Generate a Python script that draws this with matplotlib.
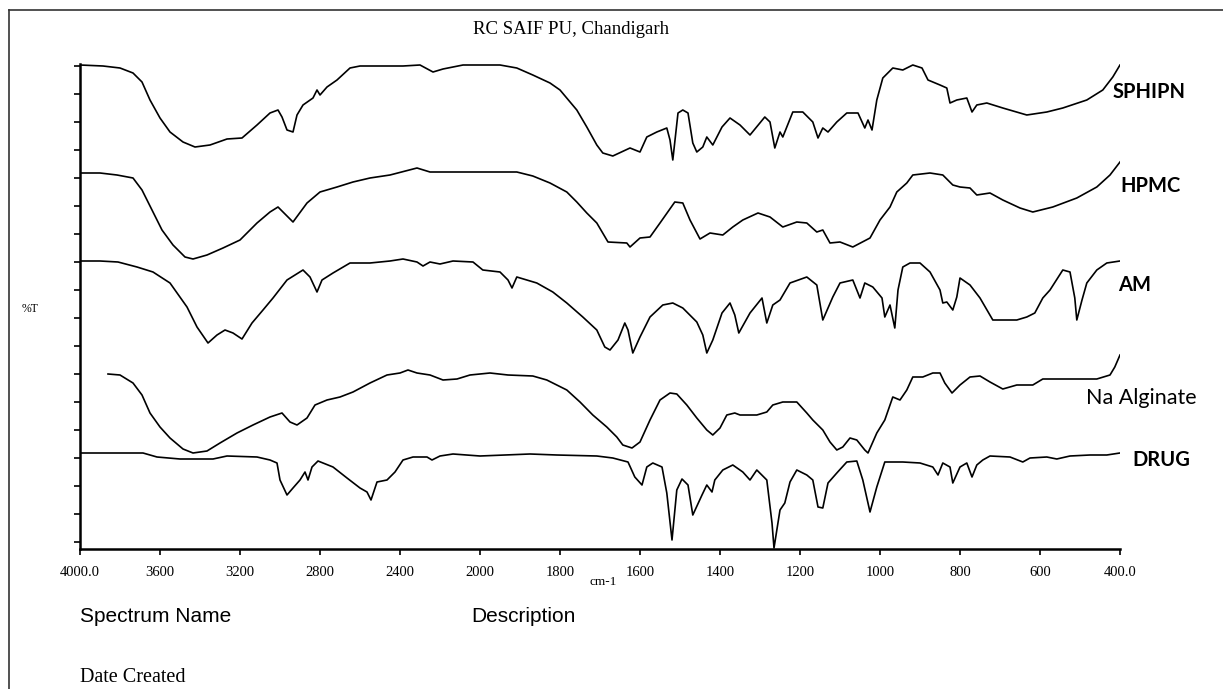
import numpy as np
import matplotlib
matplotlib.use("Agg")
import matplotlib.pyplot as plt
from matplotlib.lines import Line2D

# ---- FTIR spectra (wavenumber cm-1, %T offset units) ----
sphipn_wn = [4000, 3885, 3800, 3735, 3690, 3650, 3600, 3550, 3485, 3425, 3350, 3265, 3190,
             3115, 3050, 3010, 2990, 2965, 2935, 2915, 2885, 2835, 2815, 2800, 2765, 2715,
             2650, 2600, 2385, 2300, 2235, 2185, 2085, 1950, 1908, 1868, 1825, 1800, 1758,
             1733, 1708, 1693, 1668, 1625, 1600, 1583, 1558, 1533, 1525, 1518, 1505, 1493,
             1480, 1468, 1458, 1443, 1433, 1418, 1395, 1375, 1350, 1325, 1288, 1275, 1263,
             1250, 1243, 1233, 1218, 1193, 1168, 1155, 1143, 1130, 1108, 1083, 1055, 1038,
             1030, 1020, 1008, 993, 968, 943, 918, 895, 880, 868, 850, 833, 825, 808, 783,
             770, 758, 733, 693, 633, 583, 543, 483, 443, 418, 400]
sphipn_t = [96.8, 96.6, 96.2, 95.2, 93.4, 89.8, 86.2, 83.4, 81.4, 80.4, 80.8, 82.0, 82.2,
            84.8, 87.2, 87.8, 86.4, 83.8, 83.4, 86.8, 88.8, 90.2, 91.8, 90.8, 92.4, 93.8,
            96.2, 96.6, 96.6, 96.8, 95.4, 96.0, 96.8, 96.8, 96.2, 94.8, 93.2, 91.8, 87.8,
            84.4, 80.8, 79.2, 78.6, 80.2, 79.4, 82.4, 83.4, 84.2, 81.8, 77.8, 87.2, 87.8,
            87.2, 81.2, 79.4, 80.4, 82.4, 80.8, 84.4, 86.2, 84.8, 82.8, 86.4, 85.4, 80.2,
            83.4, 82.4, 84.4, 87.4, 87.4, 85.4, 82.2, 84.2, 83.4, 85.4, 87.2, 87.2, 84.2,
            85.8, 83.8, 89.8, 94.2, 96.2, 95.8, 96.8, 96.2, 93.8, 93.4, 92.8, 92.2, 89.2,
            89.8, 90.2, 87.4, 88.8, 89.2, 88.2, 86.8, 87.4, 88.2, 89.8, 91.8, 94.4, 96.8]

hpmc_wn = [4000, 3900, 3815, 3735, 3690, 3640, 3590, 3535, 3475, 3435, 3365, 3285, 3200,
           3115, 3050, 3010, 2935, 2865, 2800, 2715, 2635, 2550, 2450, 2315, 2250, 1908,
           1868, 1825, 1783, 1758, 1733, 1708, 1680, 1633, 1625, 1600, 1575, 1550, 1513,
           1493, 1475, 1450, 1425, 1393, 1368, 1343, 1305, 1275, 1243, 1208, 1183, 1158,
           1143, 1125, 1100, 1068, 1025, 1000, 975, 958, 933, 918, 875, 843, 818, 800, 775,
           758, 725, 693, 650, 618, 568, 508, 458, 425, 400]
hpmc_t = [75.2, 75.2, 74.8, 74.2, 71.8, 67.8, 63.8, 60.8, 58.4, 58.0, 58.8, 60.2, 61.8,
          65.2, 67.4, 68.4, 65.4, 69.2, 71.4, 72.4, 73.4, 74.2, 74.8, 76.2, 75.4, 75.4,
          74.6, 73.2, 71.4, 69.4, 67.2, 65.2, 61.4, 61.2, 60.4, 62.2, 62.4, 65.2, 69.4,
          69.2, 65.8, 62.0, 63.2, 62.8, 64.4, 65.8, 67.2, 66.4, 64.4, 65.4, 65.2, 63.4,
          63.8, 61.2, 61.4, 60.4, 62.2, 65.8, 68.4, 71.4, 73.2, 74.8, 75.2, 74.8, 72.8,
          72.4, 72.2, 70.8, 71.2, 69.8, 68.2, 67.4, 68.4, 70.2, 72.4, 74.8, 77.4]

am_wn = [4000, 3900, 3810, 3715, 3635, 3550, 3465, 3415, 3360, 3315, 3275, 3235, 3190,
         3140, 3085, 3035, 2965, 2885, 2850, 2815, 2790, 2735, 2650, 2550, 2450, 2385,
         2315, 2285, 2250, 2200, 2135, 2035, 1993, 1950, 1930, 1920, 1908, 1858, 1818,
         1783, 1743, 1708, 1688, 1675, 1655, 1638, 1630, 1618, 1600, 1575, 1543, 1518,
         1493, 1458, 1443, 1433, 1418, 1395, 1375, 1363, 1353, 1325, 1295, 1283, 1268,
         1250, 1225, 1183, 1158, 1143, 1118, 1100, 1068, 1050, 1038, 1018, 995, 988, 975,
         963, 955, 943, 925, 900, 875, 850, 843, 833, 818, 808, 800, 775, 750, 718, 683,
         658, 633, 613, 593, 575, 543, 525, 513, 508, 495, 483, 458, 433, 400]
am_t = [57.6, 57.6, 57.4, 56.4, 55.4, 53.2, 48.4, 44.4, 41.2, 42.8, 43.8, 43.2, 42.0,
        45.2, 47.8, 50.2, 53.8, 55.8, 54.4, 51.4, 53.8, 55.2, 57.2, 57.2, 57.6, 58.0,
        57.4, 56.6, 57.4, 57.0, 57.6, 57.4, 55.8, 55.4, 53.8, 52.2, 54.4, 53.2, 51.4,
        49.2, 46.4, 43.8, 40.4, 39.8, 41.8, 45.2, 43.8, 39.2, 42.4, 46.4, 48.8, 49.2,
        48.2, 45.4, 42.8, 39.2, 41.8, 47.2, 49.2, 46.8, 43.2, 47.2, 50.2, 45.2, 48.8,
        49.8, 53.2, 54.4, 52.8, 45.8, 50.4, 53.2, 53.8, 50.2, 53.2, 52.4, 50.2, 46.4, 48.8,
        44.2, 51.8, 56.4, 57.2, 57.2, 55.4, 51.8, 49.2, 49.4, 47.8, 50.4, 54.2, 52.8, 50.2,
        45.8, 45.8, 45.8, 46.4, 47.2, 50.2, 51.8, 55.8, 55.4, 50.2, 45.8, 49.8, 53.2, 55.8,
        57.2, 57.6]

alg_wn = [3860, 3800, 3735, 3690, 3650, 3600, 3550, 3485, 3435, 3365, 3300, 3215, 3135,
          3050, 2990, 2950, 2915, 2865, 2825, 2765, 2700, 2635, 2550, 2465, 2400, 2360,
          2315, 2250, 2185, 2115, 2050, 1975, 1930, 1868, 1833, 1783, 1750, 1718, 1683,
          1658, 1643, 1620, 1600, 1575, 1550, 1525, 1508, 1483, 1458, 1433, 1418, 1400,
          1383, 1363, 1350, 1308, 1283, 1268, 1243, 1208, 1183, 1168, 1143, 1125, 1108,
          1093, 1075, 1058, 1038, 1030, 1008, 988, 968, 950, 933, 918, 893, 868, 850, 838,
          820, 800, 775, 750, 725, 693, 658, 618, 593, 525, 458, 425, 413, 400]
alg_t = [35.0, 34.8, 33.2, 30.8, 27.2, 24.4, 22.2, 20.0, 19.2, 19.6, 21.2, 23.2, 24.8,
         26.4, 27.2, 25.4, 24.8, 26.2, 28.8, 29.8, 30.4, 31.4, 33.2, 34.8, 35.2, 35.8,
         35.2, 34.8, 33.8, 34.0, 34.8, 35.2, 34.8, 34.6, 33.8, 31.8, 29.4, 26.8, 24.4,
         22.4, 20.8, 20.2, 21.4, 25.8, 29.8, 31.2, 31.0, 28.8, 26.2, 23.8, 22.8, 24.2,
         26.8, 27.2, 26.8, 26.8, 27.4, 28.8, 29.4, 29.4, 27.2, 25.8, 23.8, 21.4, 19.8,
         20.4, 22.2, 21.8, 19.8, 19.2, 23.2, 25.8, 30.4, 29.8, 31.8, 34.4, 34.4, 35.2, 35.2,
         33.2, 31.2, 32.8, 34.4, 34.6, 33.4, 32.0, 32.8, 32.8, 34.0, 34.0, 34.0, 34.8,
         36.4, 38.8]

drug_wn = [4000, 3685, 3615, 3500, 3335, 3265, 3115, 3050, 3015, 3000, 2965, 2935, 2900,
           2875, 2860, 2840, 2810, 2735, 2665, 2600, 2565, 2545, 2515, 2465, 2425, 2385,
           2335, 2265, 2240, 2200, 2135, 2000, 1875, 1808, 1708, 1668, 1630, 1613, 1595,
           1583, 1568, 1545, 1533, 1520, 1508, 1495, 1480, 1468, 1445, 1433, 1420, 1413,
           1393, 1368, 1343, 1325, 1308, 1283, 1270, 1265, 1250, 1238, 1225, 1208, 1183,
           1168, 1155, 1143, 1130, 1108, 1083, 1058, 1043, 1025, 1008, 988, 943, 900, 868,
           855, 843, 825, 818, 800, 783, 770, 758, 743, 725, 675, 643, 625, 583, 558, 525,
           475, 433, 400]
drug_t = [19.2, 19.2, 18.4, 18.0, 18.0, 18.6, 18.4, 17.8, 17.2, 13.8, 10.8, 12.2, 13.8,
          15.4, 13.8, 16.4, 17.6, 16.4, 14.2, 12.2, 11.4, 9.8, 13.4, 13.8, 15.4, 17.8,
          18.4, 18.4, 17.8, 18.6, 19.0, 18.6, 19.0, 18.8, 18.6, 18.2, 17.4, 14.4, 12.8,
          16.4, 17.2, 16.4, 11.2, 1.8, 11.8, 14.0, 12.8, 6.8, 10.8, 12.8, 11.4, 13.8,
          15.8, 16.8, 15.4, 13.8, 15.8, 13.8, 5.2, 0.2, 7.8, 9.2, 13.4, 15.8, 14.8,
          13.8, 8.4, 8.2, 13.2, 15.2, 17.4, 17.6, 13.8, 7.4, 12.4, 17.4, 17.4, 17.2, 16.4,
          14.8, 17.2, 16.4, 13.2, 16.4, 17.2, 14.4, 16.8, 17.8, 18.6, 18.4, 17.4, 18.2,
          18.4, 18.0, 18.6, 18.8, 18.8, 19.2]

series = [(sphipn_wn, sphipn_t), (hpmc_wn, hpmc_t), (am_wn, am_t),
          (alg_wn, alg_t), (drug_wn, drug_t)]

tick_wn = [4000, 3600, 3200, 2800, 2400, 2000, 1800, 1600, 1400, 1200, 1000, 800, 600, 400]
tick_lbl = ["4000.0", "3600", "3200", "2800", "2400", "2000", "1800", "1600",
            "1400", "1200", "1000", "800", "600", "400.0"]


# the instrument printout compresses the 4000-2000 region by a factor 2
def fwd(w):
    w = np.asarray(w, dtype=float)
    return np.where(w >= 2000, 2000 + (w - 2000) / 2.0, w)


def inv(u):
    u = np.asarray(u, dtype=float)
    return np.where(u >= 2000, 2000 + (u - 2000) * 2.0, u)


W, H = 1223, 689
fig = plt.figure(figsize=(W / 100, H / 100), dpi=100)
ax = fig.add_axes([80 / W, 1 - 549 / H, 1040 / W, 485 / H])

for wn, t in series:
    ax.plot(wn, t, color="black", linewidth=1.2)

ax.set_xscale("function", functions=(fwd, inv))
ax.set_xlim(4000, 400)
ax.set_ylim(0, 97)
ax.set_xticks(tick_wn)
ax.set_xticklabels(tick_lbl, family="Liberation Serif", fontsize=10.5)
ax.set_yticks(np.linspace(1.4, 96.6, 18))
ax.set_yticklabels([])
ax.tick_params(direction="out", length=4, width=1.2, colors="black", pad=8)

for side in ("top", "right"):
    ax.spines[side].set_visible(False)
for side in ("left", "bottom"):
    ax.spines[side].set_linewidth(1.8)

serif = "Liberation Serif"
sans = "Lato"


def px(x, y):
    return x / W, 1 - y / H


fig.text(*px(571, 30), "RC SAIF PU, Chandigarh", family=serif, fontsize=13.5,
         ha="center", va="center")
fig.text(*px(30, 309), "%T", family=serif, fontsize=8.5, ha="center", va="center")
fig.text(*px(603, 582), "cm-1", family=serif, fontsize=9.5, ha="center", va="center")

labels = [("SPHIPN", 1113, 92, "bold", 14.5), ("HPMC", 1120, 186, "bold", 14.5),
          ("AM", 1118, 285, "bold", 14.5), ("Na Alginate", 1086, 398, "normal", 15.5),
          ("DRUG", 1132, 460, "bold", 14.5)]
for txt, x, y, wt, fs in labels:
    fig.text(*px(x, y), txt, family=sans, fontsize=fs, fontweight=wt,
             ha="left", va="center")

fig.text(*px(80, 617), "Spectrum Name", family="Liberation Sans", fontsize=15,
         ha="left", va="center")
fig.text(*px(471, 617), "Description", family="Liberation Sans", fontsize=15,
         ha="left", va="center")
fig.text(*px(80, 677), "Date Created", family=serif, fontsize=14.5,
         ha="left", va="center")

# page frame (top and left edges visible)
fig.add_artist(Line2D([9 / W, 1], [1 - 10 / H, 1 - 10 / H], color="#333333", linewidth=1.2))
fig.add_artist(Line2D([9 / W, 9 / W], [0, 1 - 10 / H], color="#333333", linewidth=1.2))

fig.savefig("out.png", dpi=100)
